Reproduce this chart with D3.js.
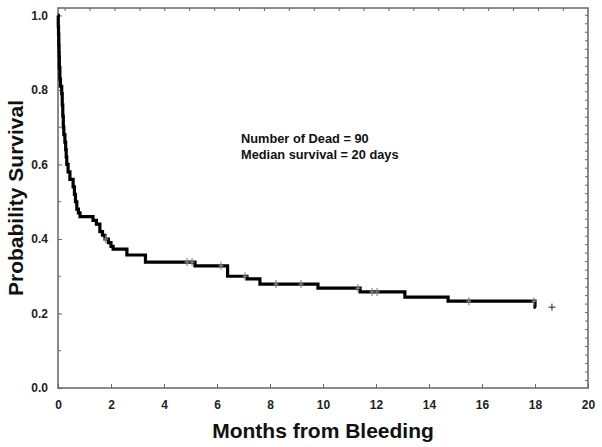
<!DOCTYPE html>
<html><head><meta charset="utf-8">
<script src="https://cdn.jsdelivr.net/npm/d3@7"></script>
<style>body{margin:0;background:#fff}svg{display:block}text{font-family:Arial,"Liberation Sans",sans-serif}</style>
</head><body><svg id="c" width="602" height="447"></svg>
<script>
// Kaplan-Meier step curve (months, survival probability)
const stepTimes = [0,0.01,0.02,0.03,0.04,0.05,0.07,0.09,0.14,0.16,0.18,0.20,0.22,0.26,0.29,0.31,0.33,0.38,0.45,0.57,0.62,0.66,0.71,0.77,0.83,1.32,1.45,1.58,1.68,1.77,1.9,2.0,2.08,2.6,3.3,5.17,6.4,7.13,7.62,9.81,11.4,13.09,14.72,18.0,18.03];
const stepSurv  = [1.0,0.97,0.95,0.92,0.89,0.86,0.83,0.81,0.79,0.76,0.73,0.70,0.68,0.66,0.64,0.62,0.60,0.58,0.56,0.54,0.52,0.50,0.48,0.47,0.46,0.45,0.44,0.42,0.41,0.40,0.39,0.38,0.373,0.357,0.338,0.328,0.30,0.293,0.279,0.268,0.258,0.244,0.233,0.217,0.217];
// censored observations
const censorTimes = [1.8,4.87,5.06,6.15,7.06,8.23,9.17,11.32,11.85,12.04,15.5,17.96];
const censorSurv  = [0.40,0.338,0.338,0.328,0.30,0.279,0.279,0.268,0.258,0.258,0.233,0.233];
const lastCensor = [{t:18.64, s:0.217}];
const xTicks = [0,2,4,6,8,10,12,14,16,18,20];
const yTicks = [0.0,0.2,0.4,0.6,0.8,1.0];
const yMinor = [0.1,0.3,0.5,0.7,0.9];
const annotation = ["Number of Dead = 90","Median survival = 20 days"];

const svg = d3.select("#c");
const L=58,R=588,T=8,B=388;
const x = d3.scaleLinear().domain([0,20]).range([L,R]);
const y = d3.scaleLinear().domain([0,1.02]).range([B,T]);
const frame="#666";

// frame
svg.append("rect").attr("x",L).attr("y",T).attr("width",R-L).attr("height",B-T)
  .attr("fill","none").attr("stroke",frame).attr("stroke-width",1.5);

// bottom axis
const gx = svg.append("g").attr("transform",`translate(0,${B})`)
  .call(d3.axisBottom(x).tickValues(xTicks).tickFormat(d3.format("d")).tickSizeInner(-4).tickSizeOuter(0).tickPadding(10));
gx.select(".domain").remove();
gx.selectAll("line").attr("stroke",frame);
gx.selectAll("text").attr("font-size",12).attr("fill","#222").attr("font-weight","bold").attr("dy","0.9em");

// left axis
const gy = svg.append("g").attr("transform",`translate(${L},0)`)
  .call(d3.axisLeft(y).tickValues(yTicks).tickFormat(d3.format(".1f")).tickSizeInner(-4).tickSizeOuter(0).tickPadding(10));
gy.select(".domain").remove();
gy.selectAll("line").attr("stroke",frame);
gy.selectAll("text").attr("font-size",12).attr("fill","#222").attr("font-weight","bold");
svg.append("g").selectAll("line").data(yMinor).join("line")
  .attr("x1",L).attr("x2",L+3).attr("y1",d=>y(d)).attr("y2",d=>y(d)).attr("stroke",frame);

// top minor ticks
svg.append("g").selectAll("line").data(d3.range(0.27,20,0.94)).join("line")
  .attr("x1",d=>x(d)).attr("x2",d=>x(d)).attr("y1",T).attr("y2",T+3).attr("stroke",frame);
// right minor ticks
svg.append("g").selectAll("line").data(d3.range(0.02,1.02,0.0228)).join("line")
  .attr("x1",R-3).attr("x2",R).attr("y1",d=>y(d)).attr("y2",d=>y(d)).attr("stroke",frame);

// KM curve
const pts = stepTimes.map((t,i)=>[t,stepSurv[i]]);
svg.append("path").datum(pts)
  .attr("d",d3.line().x(d=>x(d[0])).y(d=>y(d[1])).curve(d3.curveStepAfter))
  .attr("fill","none").attr("stroke","#000").attr("stroke-width",3.2).attr("stroke-linejoin","miter");

// censor marks
const cm = censorTimes.map((t,i)=>({t,s:censorSurv[i]}));
const cg = svg.append("g");
cg.selectAll("line.v").data(cm).join("line").attr("class","v")
  .attr("x1",d=>x(d.t)).attr("x2",d=>x(d.t)).attr("y1",d=>y(d.s)-4).attr("y2",d=>y(d.s)+4)
  .attr("stroke","#888").attr("stroke-width",1.2);
cg.selectAll("line.h").data(cm).join("line").attr("class","h")
  .attr("x1",d=>x(d.t)-2.5).attr("x2",d=>x(d.t)+2.5).attr("y1",d=>y(d.s)).attr("y2",d=>y(d.s))
  .attr("stroke","#888").attr("stroke-width",1.2);
const lg = svg.append("g");
lg.selectAll("line.v").data(lastCensor).join("line").attr("class","v")
  .attr("x1",d=>x(d.t)).attr("x2",d=>x(d.t)).attr("y1",d=>y(d.s)-3.5).attr("y2",d=>y(d.s)+3.5)
  .attr("stroke","#222").attr("stroke-width",1);
lg.selectAll("line.h").data(lastCensor).join("line").attr("class","h")
  .attr("x1",d=>x(d.t)-3.5).attr("x2",d=>x(d.t)+3.5).attr("y1",d=>y(d.s)).attr("y2",d=>y(d.s))
  .attr("stroke","#222").attr("stroke-width",1);

// annotation
svg.append("g").selectAll("text").data(annotation).join("text")
  .attr("x",241).attr("y",(d,i)=>143+i*15.5).attr("font-size",12.8).attr("font-weight","bold").attr("fill","#111").text(d=>d);

// axis titles
svg.append("text").attr("x",(L+R)/2).attr("y",438).attr("text-anchor","middle")
  .attr("font-size",21).attr("font-weight","bold").attr("fill","#111").text("Months from Bleeding");
svg.append("text").attr("transform",`translate(23,${(T+B)/2}) rotate(-90)`).attr("text-anchor","middle")
  .attr("font-size",21).attr("font-weight","bold").attr("fill","#111").text("Probability Survival");
</script></body></html>
